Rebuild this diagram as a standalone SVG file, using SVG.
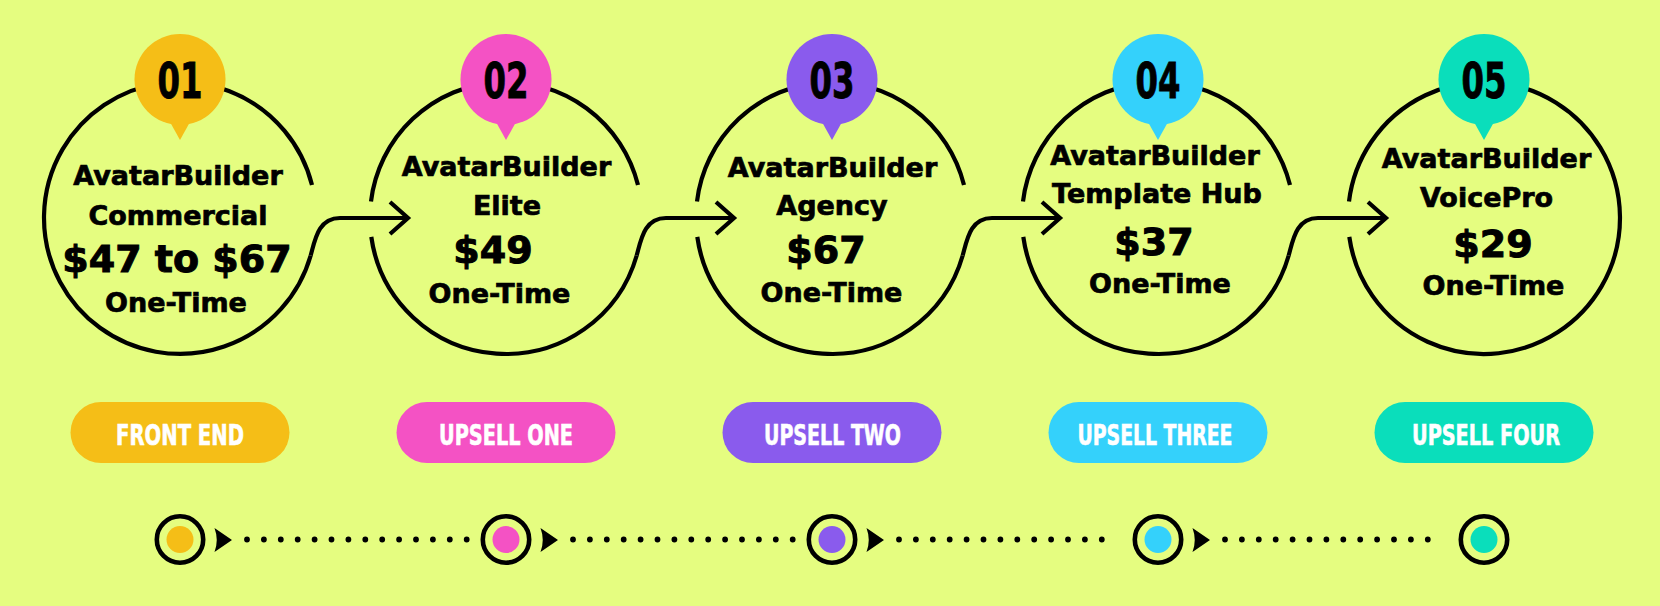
<svg xmlns="http://www.w3.org/2000/svg" width="1660" height="606" viewBox="0 0 1660 606">
<style>
.ring{fill:none;stroke:#000;stroke-width:4.2;stroke-linecap:butt}
.con{fill:none;stroke:#000;stroke-width:4.2}
.chev{fill:none;stroke:#000;stroke-width:4.2;stroke-linejoin:miter}
.num{font-family:"Liberation Sans Narrow","DejaVu Sans Condensed","Liberation Sans",sans-serif;font-weight:bold;font-size:49px;fill:#000;stroke:#000;stroke-width:0.8;text-anchor:middle}
.t{font-family:"DejaVu Sans",Verdana,sans-serif;font-weight:bold;font-size:27px;fill:#000;stroke:#000;stroke-width:0.7;text-anchor:middle}
.p{font-family:"DejaVu Sans",Verdana,sans-serif;font-weight:bold;font-size:38px;fill:#000;stroke:#000;stroke-width:1;text-anchor:middle}
.pill{font-family:"Liberation Sans Narrow","DejaVu Sans Condensed","Liberation Sans",sans-serif;font-weight:bold;font-size:28px;fill:#fff;stroke:#fff;stroke-width:0.6;text-anchor:middle}
.tr{fill:none;stroke:#000;stroke-width:4.6}
.dots{stroke:#000;stroke-width:5.8;stroke-linecap:round;stroke-dasharray:0 16.9}
.c1{fill:#F5BE17}.c2{fill:#F452C4}.c3{fill:#8A5BED}.c4{fill:#34D1FB}.c5{fill:#0ADEBB}
</style>
<rect width="1660" height="606" fill="#E5FD80"/>

<g id="connectors">
<path class="con" d="M310.7,255.5 C315,240 318,218 340,218 L408,218"/>
<path class="chev" d="M390,202 L408,218 L390,234"/>
<path class="con" d="M636.7,255.5 C641,240 644,218 666,218 L734,218"/>
<path class="chev" d="M716,202 L734,218 L716,234"/>
<path class="con" d="M962.7,255.5 C967,240 970,218 992,218 L1060,218"/>
<path class="chev" d="M1042,202 L1060,218 L1042,234"/>
<path class="con" d="M1288.7,255.5 C1293,240 1296,218 1318,218 L1386,218"/>
<path class="chev" d="M1368,202 L1386,218 L1368,234"/>
<line class="dots" x1="247" y1="539.5" x2="466.7" y2="539.5"/>
<line class="dots" x1="573" y1="539.5" x2="792.7" y2="539.5"/>
<line class="dots" x1="899" y1="539.5" x2="1118.7" y2="539.5"/>
<line class="dots" x1="1225" y1="539.5" x2="1444.7" y2="539.5"/>
<path d="M214.5,528 Q219,540 214.5,552 L232,540 Z"/>
<path d="M540.5,528 Q545,540 540.5,552 L558,540 Z"/>
<path d="M866.5,528 Q871,540 866.5,552 L884,540 Z"/>
<path d="M1192.5,528 Q1197,540 1192.5,552 L1210,540 Z"/>
</g>

<g id="node-01" transform="translate(180,0)">
<path class="ring" d="M130.7,255.5 A136 136 0 1 1 132,185.1"/>
<circle class="c1" cx="0" cy="79.5" r="45.5"/>
<polygon class="c1" points="-10,122 0,140 10,122"/>
<text class="num" x="0" y="98" textLength="45" lengthAdjust="spacingAndGlyphs">01</text>
<text class="t" x="-2" y="185">AvatarBuilder</text>
<text class="t" x="-2" y="225">Commercial</text>
<text class="p" x="-3" y="272">$47 to $67</text>
<text class="t" x="-4" y="312">One-Time</text>
<rect class="c1" x="-109.5" y="402" width="219" height="61" rx="30.5"/>
<text class="pill" x="0" y="445" textLength="128" lengthAdjust="spacingAndGlyphs">FRONT END</text>
<circle class="tr" cx="0" cy="539.5" r="23.2"/>
<circle class="c1" cx="0" cy="539.5" r="13.5"/>
</g>

<g id="node-02" transform="translate(506,0)">
<path class="ring" d="M130.7,255.5 A136 136 0 0 1 -134.7,236.9"/>
<path class="ring" d="M-135,201.4 A136 136 0 0 1 132,185.1"/>
<circle class="c2" cx="0" cy="79.5" r="45.5"/>
<polygon class="c2" points="-10,122 0,140 10,122"/>
<text class="num" x="0" y="98" textLength="45" lengthAdjust="spacingAndGlyphs">02</text>
<text class="t" x="0.5" y="176">AvatarBuilder</text>
<text class="t" x="1" y="215">Elite</text>
<text class="p" x="-13" y="263">$49</text>
<text class="t" x="-6.5" y="303">One-Time</text>
<rect class="c2" x="-109.5" y="402" width="219" height="61" rx="30.5"/>
<text class="pill" x="0" y="445" textLength="134" lengthAdjust="spacingAndGlyphs">UPSELL ONE</text>
<circle class="tr" cx="0" cy="539.5" r="23.2"/>
<circle class="c2" cx="0" cy="539.5" r="13.5"/>
</g>

<g id="node-03" transform="translate(832,0)">
<path class="ring" d="M130.7,255.5 A136 136 0 0 1 -134.7,236.9"/>
<path class="ring" d="M-135,201.4 A136 136 0 0 1 132,185.1"/>
<circle class="c3" cx="0" cy="79.5" r="45.5"/>
<polygon class="c3" points="-10,122 0,140 10,122"/>
<text class="num" x="0" y="98" textLength="45" lengthAdjust="spacingAndGlyphs">03</text>
<text class="t" x="0.5" y="177">AvatarBuilder</text>
<text class="t" x="0" y="215">Agency</text>
<text class="p" x="-6" y="263">$67</text>
<text class="t" x="-0.5" y="302">One-Time</text>
<rect class="c3" x="-109.5" y="402" width="219" height="61" rx="30.5"/>
<text class="pill" x="0.5" y="445" textLength="137" lengthAdjust="spacingAndGlyphs">UPSELL TWO</text>
<circle class="tr" cx="0" cy="539.5" r="23.2"/>
<circle class="c3" cx="0" cy="539.5" r="13.5"/>
</g>

<g id="node-04" transform="translate(1158,0)">
<path class="ring" d="M130.7,255.5 A136 136 0 0 1 -134.7,236.9"/>
<path class="ring" d="M-135,201.4 A136 136 0 0 1 132,185.1"/>
<circle class="c4" cx="0" cy="79.5" r="45.5"/>
<polygon class="c4" points="-10,122 0,140 10,122"/>
<text class="num" x="0" y="98" textLength="45" lengthAdjust="spacingAndGlyphs">04</text>
<text class="t" x="-3" y="165">AvatarBuilder</text>
<text class="t" x="-1" y="203">Template Hub</text>
<text class="p" x="-4" y="255">$37</text>
<text class="t" x="2" y="293">One-Time</text>
<rect class="c4" x="-109.5" y="402" width="219" height="61" rx="30.5"/>
<text class="pill" x="-3" y="445" textLength="155" lengthAdjust="spacingAndGlyphs">UPSELL THREE</text>
<circle class="tr" cx="0" cy="539.5" r="23.2"/>
<circle class="c4" cx="0" cy="539.5" r="13.5"/>
</g>

<g id="node-05" transform="translate(1484,0)">
<path class="ring" d="M-135,201.4 A136 136 0 1 1 -134.7,236.9"/>
<circle class="c5" cx="0" cy="79.5" r="45.5"/>
<polygon class="c5" points="-10,122 0,140 10,122"/>
<text class="num" x="0" y="98" textLength="45" lengthAdjust="spacingAndGlyphs">05</text>
<text class="t" x="2.5" y="168">AvatarBuilder</text>
<text class="t" x="2.5" y="207">VoicePro</text>
<text class="p" x="9" y="257">$29</text>
<text class="t" x="9.5" y="295">One-Time</text>
<rect class="c5" x="-109.5" y="402" width="219" height="61" rx="30.5"/>
<text class="pill" x="2" y="445" textLength="148" lengthAdjust="spacingAndGlyphs">UPSELL FOUR</text>
<circle class="tr" cx="0" cy="539.5" r="23.2"/>
<circle class="c5" cx="0" cy="539.5" r="13.5"/>
</g>
</svg>
